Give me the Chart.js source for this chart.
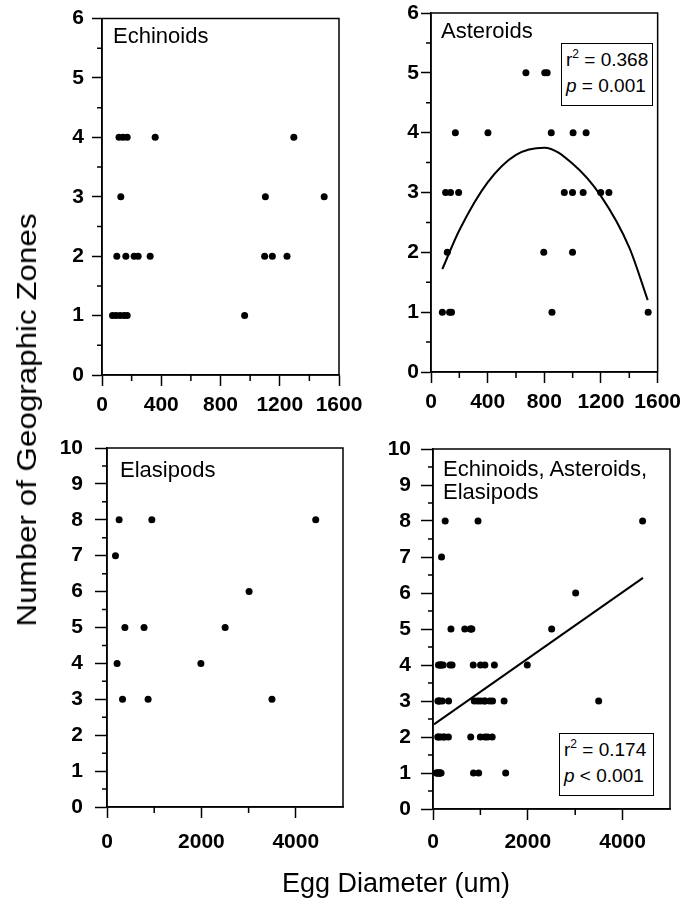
<!DOCTYPE html>
<html lang="en">
<head>
  <meta charset="UTF-8">
  <title>Egg Diameter vs Geographic Zones</title>
  <script src="https://cdn.jsdelivr.net/npm/chart.js"></script>
  <style>
    html, body { margin: 0; padding: 0; background: #fff; }
    #page { position: relative; width: 690px; height: 904px; overflow: hidden; font-family: "Liberation Sans", Arial, sans-serif; color: #000; }
    #page canvas { position: absolute; }
    .lbl { position: absolute; font-size: 22px; line-height: 23.3px; white-space: nowrap; z-index: 2; }
    .stat { position: absolute; border: 1.5px solid #000; background: #fff; font-size: 19px; line-height: 26px; padding: 3px 0 3px 4px; box-sizing: border-box; white-space: nowrap; z-index: 2; }
    .stat sup { font-size: 12px; line-height: 0; vertical-align: 8px; }
    .ytitle { position: absolute; left: 27px; top: 420px; font-size: 28px; white-space: nowrap; transform: translate(-50%, -50%) rotate(-90deg) scaleX(1.12); z-index: 2; }
    .xtitle { position: absolute; left: 396px; top: 868px; font-size: 27px; white-space: nowrap; transform: translateX(-50%); z-index: 2; }
  </style>
</head>
<body>
  <div id="page">
    <canvas id="c1" style="left:0;top:0" width="372" height="430"></canvas>
    <canvas id="c2" style="left:345px;top:0" width="345" height="430"></canvas>
    <canvas id="c3" style="left:0;top:400px" width="372" height="504"></canvas>
    <canvas id="c4" style="left:345px;top:400px" width="345" height="504"></canvas>

    <div class="lbl" style="left:113px;top:24px">Echinoids</div>
    <div class="lbl" style="left:441px;top:19px">Asteroids</div>
    <div class="lbl" style="left:120px;top:458px">Elasipods</div>
    <div class="lbl" style="left:443px;top:457px">Echinoids, Asteroids,<br>Elasipods</div>

    <div class="stat" style="left:561px;top:43px;width:92px;height:63px">r<sup>2</sup> = 0.368<br><i>p</i> = 0.001</div>
    <div class="stat" style="left:559px;top:733px;width:95px;height:63px">r<sup>2</sup> = 0.174<br><i>p</i> &lt; 0.001</div>

    <div class="ytitle">Number of Geographic Zones</div>
    <div class="xtitle">Egg Diameter (um)</div>
  </div>

  <script>
    // Echinoids (egg diameter um, number of zones)
    const echinoidX = [115, 142, 170, 359, 1295,
                       127, 1103, 1500,
                       100, 161, 217, 244, 325, 1098, 1150, 1249,
                       71, 95, 122, 149, 170, 963];
    const echinoidY = [4, 4, 4, 4, 4,
                       3, 3, 3,
                       2, 2, 2, 2, 2, 2, 2, 2,
                       1, 1, 1, 1, 1, 1];

    // Asteroids
    const asteroidX = [670, 803, 820,
                       172, 402, 849, 1003, 1095,
                       103, 138, 195, 941, 999, 1074, 1198, 1256,
                       115, 796, 999,
                       80, 131, 145, 854, 1533];
    const asteroidY = [5, 5, 5,
                       4, 4, 4, 4, 4,
                       3, 3, 3, 3, 3, 3, 3, 3,
                       2, 2, 2,
                       1, 1, 1, 1, 1];

    // Elasipods
    const elasipodX = [257, 950, 4422, 180, 3010, 379, 785, 2503, 214, 1989, 329, 871, 3495];
    const elasipodY = [8, 8, 8, 7, 6, 5, 5, 5, 4, 4, 3, 3, 3];

    // fitted curves
    const asteroidFitX = [80, 200, 400, 600, 800, 1000, 1200, 1400, 1530];
    const asteroidFitY = [1.72, 2.37, 3.17, 3.63, 3.75, 3.48, 2.94, 2.08, 1.2];
    const allFitX = [20, 4430];
    const allFitY = [2.35, 6.42];

    // axis ticks
    const smallXTicks = [0, 400, 800, 1200, 1600];
    const smallXMinor = [200, 600, 1000, 1400];
    const bigXTicks = [0, 2000, 4000];
    const bigXMinor = [1000, 3000];
    const zoneTicks6 = [0, 1, 2, 3, 4, 5, 6];
    const zoneMinor6 = [0.5, 1.5, 2.5, 3.5, 4.5, 5.5];
    const zoneTicks10 = [0, 1, 2, 3, 4, 5, 6, 7, 8, 9, 10];
    const zoneMinor10 = [0.5, 1.5, 2.5, 3.5, 4.5, 5.5, 6.5, 7.5, 8.5, 9.5];

    const pts = (xs, ys) => xs.map((x, i) => ({ x, y: ys[i] }));

    const allX = echinoidX.concat(asteroidX, elasipodX);
    const allY = echinoidY.concat(asteroidY, elasipodY);

    // frame + short minor ticks
    const frame = {
      id: 'frame',
      afterDraw(chart, args, opts) {
        const { ctx, chartArea: a, scales: { x, y } } = chart;
        ctx.save();
        ctx.strokeStyle = '#000';
        ctx.lineWidth = 1.5;
        ctx.beginPath();
        opts.xMinor.forEach(v => {
          const px = x.getPixelForValue(v);
          ctx.moveTo(px, a.bottom);
          ctx.lineTo(px, a.bottom + 6);
        });
        opts.yMinor.forEach(v => {
          const py = y.getPixelForValue(v);
          ctx.moveTo(a.left, py);
          ctx.lineTo(a.left - 5, py);
        });
        ctx.stroke();
        ctx.strokeRect(a.left, a.top, a.right - a.left, a.bottom - a.top);
        ctx.restore();
      }
    };

    function makePanel(id, cfg) {
      const datasets = [{
        type: 'scatter',
        data: pts(cfg.xs, cfg.ys),
        pointRadius: 3.5,
        pointBackgroundColor: '#000',
        pointBorderWidth: 0
      }];
      if (cfg.fitX) {
        datasets.push({
          type: 'line',
          data: pts(cfg.fitX, cfg.fitY),
          borderColor: '#000',
          borderWidth: 2,
          pointRadius: 0,
          fill: false,
          cubicInterpolationMode: 'monotone'
        });
      }
      const tickFont = { family: '"Liberation Sans", Arial, sans-serif', size: 21, weight: 'bold', lineHeight: 1 };
      new Chart(document.getElementById(id), {
        data: { datasets },
        options: {
          responsive: false,
          animation: false,
          layout: { padding: { top: cfg.padTop, right: cfg.padRight, left: 0, bottom: 0 } },
          plugins: {
            legend: { display: false },
            tooltip: { enabled: false },
            frame: { xMinor: cfg.xMinor, yMinor: cfg.yMinor }
          },
          scales: {
            x: {
              type: 'linear',
              min: 0,
              max: cfg.xMax,
              afterBuildTicks: s => { s.ticks = cfg.xTicks.map(v => ({ value: v })); },
              afterFit: s => { s.height = cfg.xHeight; },
              ticks: { color: '#000', font: tickFont, padding: cfg.xPad, maxRotation: 0, callback: v => String(v) },
              grid: { drawOnChartArea: false, tickLength: 11, tickWidth: 1.5, tickColor: '#000' },
              border: { color: '#000', width: 1.5 }
            },
            y: {
              type: 'linear',
              min: 0,
              max: cfg.yMax,
              afterBuildTicks: s => { s.ticks = cfg.yTicks.map(v => ({ value: v })); },
              afterFit: s => { s.width = cfg.yWidth; },
              ticks: { color: '#000', font: tickFont, padding: cfg.yPad, callback: v => String(v) },
              grid: { drawOnChartArea: false, tickLength: cfg.yTick, tickWidth: 1.5, tickColor: '#000' },
              border: { color: '#000', width: 1.5 }
            }
          }
        },
        plugins: [frame]
      });
    }

    makePanel('c1', {
      xs: echinoidX, ys: echinoidY,
      xMax: 1600, xTicks: smallXTicks, xMinor: smallXMinor,
      yMax: 6, yTicks: zoneTicks6, yMinor: zoneMinor6,
      padTop: 15, padRight: 33, yWidth: 102, xHeight: 55, xPad: 9, yPad: 8, yTick: 10
    });
    makePanel('c2', {
      xs: asteroidX, ys: asteroidY, fitX: asteroidFitX, fitY: asteroidFitY,
      xMax: 1600, xTicks: smallXTicks, xMinor: smallXMinor,
      yMax: 6, yTicks: zoneTicks6, yMinor: zoneMinor6,
      padTop: 13, padRight: 26, yWidth: 86, xHeight: 58, xPad: 9, yPad: 2, yTick: 10
    });
    makePanel('c3', {
      xs: elasipodX, ys: elasipodY,
      xMax: 5000, xTicks: bigXTicks, xMinor: bigXMinor,
      yMax: 10, yTicks: zoneTicks10, yMinor: zoneMinor10,
      padTop: 48, padRight: 29, yWidth: 107, xHeight: 97, xPad: 14, yPad: 12, yTick: 12
    });
    makePanel('c4', {
      xs: allX, ys: allY, fitX: allFitX, fitY: allFitY,
      xMax: 5000, xTicks: bigXTicks, xMinor: bigXMinor,
      yMax: 10, yTicks: zoneTicks10, yMinor: zoneMinor10,
      padTop: 49, padRight: 20, yWidth: 88, xHeight: 95, xPad: 12, yPad: 10, yTick: 12
    });
  </script>
</body>
</html>
